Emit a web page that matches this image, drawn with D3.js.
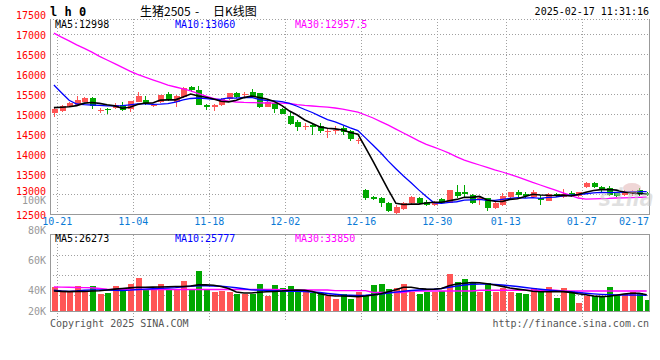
<!DOCTYPE html>
<html><head><meta charset="utf-8">
<script src="https://cdn.jsdelivr.net/npm/d3@7/dist/d3.min.js"></script>
<style>body{margin:0;background:#fff}svg{display:block}text{font-family:"DejaVu Sans Mono",monospace}</style>
</head><body><svg id="c" width="660" height="360"></svg>
<script>
const dates = ["10-18","10-21","10-22","10-23","10-24","10-25","10-28","10-29","10-30","10-31",
"11-01","11-04","11-05","11-06","11-07","11-08","11-11","11-12","11-13","11-14","11-15",
"11-18","11-19","11-20","11-21","11-22","11-25","11-26","11-27","11-28","11-29",
"12-02","12-03","12-04","12-05","12-06","12-09","12-10","12-11","12-12","12-13",
"12-16","12-17","12-18","12-19","12-20","12-23","12-24","12-25","12-26","12-27",
"12-30","12-31","01-02","01-03","01-06","01-07","01-08","01-09","01-10",
"01-13","01-14","01-15","01-16","01-17","01-20","01-21","01-22","01-23","01-24",
"01-27","02-05","02-06","02-07","02-10","02-11","02-12","02-13","02-14","02-17"];
const open  = [15035,15085,15185,15225,15300,15400,15090,15130,15150,15230,15120,15310,15350,15190,15290,15500,15290,15420,15670,15600,15225,15185,15220,15370,15515,15470,15540,15520,15185,15270,15125,14950,14800,14670,14725,14710,14565,14590,14660,14575,14340,13100,12930,12905,12770,12535,12620,12785,12890,12810,12730,12870,12785,13060,13060,12975,12850,12890,12640,12725,12915,13040,12990,12935,12890,12835,13000,12935,13030,12950,13165,13265,13165,13140,13020,12975,12990,13100,13035];
const high  = [15150,15230,15300,15450,15420,15430,15160,15160,15265,15290,15330,15560,15450,15250,15480,15540,15470,15670,15710,15700,15250,15240,15390,15520,15560,15550,15625,15530,15320,15280,15140,15060,14850,14770,14750,14770,14640,14700,14700,14600,14410,13120,12960,12930,12810,12720,12810,12950,12930,12850,12830,12900,13110,13225,13225,12990,12930,12900,12800,13015,13060,13100,13060,13100,12975,13020,13030,13115,13070,13060,13290,13290,13210,13200,13060,13100,13090,13140,13060];
const low   = [14920,15040,15170,15220,15290,15120,15030,15010,15135,15080,15040,15300,15220,15170,15280,15320,15180,15400,15550,15220,15100,15080,15200,15360,15400,15430,15390,15160,15180,15020,14990,14720,14575,14600,14480,14520,14400,14500,14475,14330,14245,12850,12850,12680,12555,12510,12600,12760,12750,12700,12700,12750,12770,12910,12930,12760,12725,12580,12630,12710,12900,12920,12890,12890,12725,12820,12920,12910,12920,12930,13150,13150,13060,12960,12930,12950,12960,12950,12950];
const close = [15125,15200,15280,15350,15400,15200,15100,15100,15215,15110,15320,15440,15280,15230,15470,15340,15450,15650,15590,15230,15170,15230,15370,15515,15435,15500,15435,15185,15310,15125,15000,14750,14685,14690,14685,14580,14580,14605,14560,14370,14360,12910,12870,12785,12585,12680,12765,12915,12785,12725,12780,12770,13100,12950,12990,12770,12890,12660,12785,12950,13040,12975,12950,13060,12850,13000,12960,12990,12950,13040,13285,13170,13100,12975,12950,13060,13060,12990,12975];
const ma5  = [15160,15170,15180,15210,15271,15286,15266,15230,15203,15145,15169,15237,15273,15276,15348,15352,15354,15428,15500,15452,15418,15374,15318,15303,15344,15410,15451,15414,15373,15311,15211,15074,14974,14850,14762,14678,14644,14628,14602,14539,14495,14161,13814,13459,13102,12766,12737,12746,12746,12774,12794,12795,12832,12865,12918,12916,12940,12852,12819,12811,12865,12882,12940,12995,12975,12967,12964,12972,12950,12988,13045,13087,13109,13114,13096,13051,13029,13007,13007];
const ma10 = [15725,15533,15342,15250,15235,15225,15215,15205,15205,15208,15228,15252,15252,15240,15247,15261,15296,15351,15388,15400,15385,15364,15373,15402,15398,15414,15413,15366,15338,15328,15311,15263,15194,15112,15037,14945,14859,14801,14726,14651,14587,14403,14221,14031,13821,13631,13449,13280,13103,12938,12780,12766,12789,12806,12846,12855,12868,12842,12842,12865,12891,12911,12896,12907,12893,12916,12923,12956,12973,12982,13006,13026,13041,13032,13042,13048,13058,13058,13061];
const ma30 = [17020,16920,16830,16730,16640,16545,16440,16350,16260,16165,16070,15990,15920,15855,15790,15720,15675,15630,15580,15510,15445,15390,15350,15320,15300,15290,15285,15280,15275,15272,15270,15262,15235,15215,15200,15185,15170,15150,15120,15085,15045,14975,14900,14810,14720,14620,14525,14430,14330,14240,14170,14100,14020,13930,13845,13785,13725,13665,13605,13550,13490,13430,13360,13290,13225,13160,13095,13030,12965,12900,12870,12880,12885,12890,12900,12905,12910,12915,12920];
const volume = [42000,38870,38870,42670,39560,42670,37330,38200,42670,39560,44000,48000,40000,40000,44000,40000,40440,46000,40440,52870,40440,38670,39330,38870,37330,37330,37330,44000,36200,43330,41330,42670,39560,40000,38000,38000,36200,34000,37330,34000,38870,36000,43330,44000,40670,41560,44000,38870,37330,38870,38870,39560,50670,45560,47330,44440,38870,44440,38870,41110,38870,37780,37330,41110,38870,42000,34890,41110,39330,31110,36200,36000,35560,42000,36670,37330,38870,37780,33330];
const volMa5 = [39300,39100,38900,39100,39000,39300,39500,40000,40600,41000,41400,41800,41800,41900,42000,42200,42300,42300,42700,43400,43500,43200,42300,41000,38700,38000,38000,38500,38800,39000,39300,39800,40000,39800,39000,37500,36500,36000,36000,35800,35600,36000,36700,37500,38800,40200,41800,41800,41000,40600,40500,41000,42800,44000,44500,45000,44800,44200,43300,42400,41300,40600,40000,39200,38800,38800,38900,38900,38400,37500,36800,36000,35600,35800,36500,37300,37800,37800,36800];
const volMa10 = [39800,39300,39100,39300,39800,40100,40100,40000,39800,39700,39900,40300,40600,40800,41100,41300,41600,42100,42500,42800,42800,42700,42500,42100,41500,40800,40100,39900,39700,39500,39300,39200,39100,38900,38700,38300,37700,37200,36700,36500,36400,36500,36800,37300,38000,38600,39200,39700,40000,40300,40500,41000,41800,42600,43300,43800,43900,43900,43700,43300,42800,42300,41700,41100,40500,40000,39500,39100,38800,38300,37800,37400,37100,36900,36700,36700,36700,36600,36500];
const volMa30 = [42000,41900,41800,41700,41600,41500,41000,40600,40400,40300,40300,40300,40300,40300,40300,40300,40300,40300,40300,40300,40300,40300,40300,40300,40300,40300,40300,40300,40300,40300,40200,40000,40000,40000,40000,40000,40000,39600,39600,39600,39600,39600,38300,38300,38300,38300,38300,39300,39300,39300,39300,39300,39300,39300,39300,39300,39800,39800,39800,39800,39800,39800,39800,39800,39800,39800,39800,39300,39300,39300,39300,39300,39300,39300,39300,39300,39300,39300,39300];
const dateTicks = ["10-21","11-04","11-18","12-02","12-16","12-30","01-13","01-27"];
const lastDate = "02-17";
const priceTicks = [17500,17000,16500,16000,15500,15000,14500,14000,13500,13000,12500];
const volTicks = [100000,80000,60000,40000,20000];
const priceLegend = ["MA5:12998","MA10:13060","MA30:12957.5"];
const volLegend = ["MA5:26273","MA10:25777","MA30:33850"];
const legendColors = ["#000","#0000ff","#ff00ff"];

const svg = d3.select("#c");
const L = 50, R = 649, pTop = 19, pBot = 214, vTop = 234.5, vBot = 311;
const x = d3.scaleBand().domain(dates).range([49.7, 657.7]);
const cx = d => x(d) + 4.2;
const y = d3.scaleLinear().domain([12500, 17500]).range([214, 14]);
const vy = d3.scaleLinear().domain([20000, 100000]).range([320, 200]);
const UP = "#ff5555", DOWN = "#00a800";
const idx = d3.range(close.length);

const defs = svg.append("defs");
defs.append("clipPath").attr("id","cp").append("rect").attr("x",L).attr("y",pTop).attr("width",R-L).attr("height",pBot-pTop);
defs.append("clipPath").attr("id","cv").append("rect").attr("x",L).attr("y",vTop).attr("width",R-L).attr("height",vBot-vTop);

const grid = svg.append("g").attr("stroke","#a0a0a0").attr("stroke-dasharray","1,2").attr("shape-rendering","crispEdges");
priceTicks.filter(t => y(t) > pTop + 2 && y(t) < pBot - 2).forEach(t =>
  grid.append("line").attr("x1",L).attr("x2",R).attr("y1",Math.round(y(t))+0.5).attr("y2",Math.round(y(t))+0.5));
grid.append("line").attr("x1",L).attr("x2",R).attr("y1",pTop+0.5).attr("y2",pTop+0.5);
[255,275,295].forEach(g => grid.append("line").attr("x1",L).attr("x2",R).attr("y1",g+0.5).attr("y2",g+0.5));
dateTicks.forEach(d => {
  const gx = Math.round(x(d)) + 0.5;
  grid.append("line").attr("x1",gx).attr("x2",gx).attr("y1",pTop).attr("y2",pBot);
  grid.append("line").attr("x1",gx).attr("x2",gx).attr("y1",vTop).attr("y2",322);
});

const fr = svg.append("g").attr("stroke","#999").attr("fill","none").attr("shape-rendering","crispEdges");
fr.append("path").attr("d",`M${L+0.5},${pTop}V${pBot+0.5}H${R+0.5}V${pTop}`);
fr.append("path").attr("d",`M${L+0.5},${vTop}V${vBot+0.5}H${R+0.5}V${vTop}M${L},${vTop}H${R+0.5}`);

const cg = svg.append("g").attr("clip-path","url(#cp)").attr("shape-rendering","crispEdges");
idx.forEach(i => {
  const c = close[i] >= open[i] ? UP : DOWN;
  const xc = Math.round(cx(dates[i])) + 0.5;
  cg.append("line").attr("x1",xc).attr("x2",xc).attr("y1",y(high[i])).attr("y2",y(low[i])).attr("stroke",c);
  const t = y(Math.max(open[i],close[i])), b = y(Math.min(open[i],close[i]));
  cg.append("rect").attr("x",xc-3).attr("width",6).attr("y",t).attr("height",Math.max(1,b-t)).attr("fill",c);
});
const ln = (arr, sc) => d3.line().x((d,i)=>cx(dates[i])).y(d=>sc(d))(arr);
const lg = svg.append("g").attr("clip-path","url(#cp)").attr("fill","none");
lg.append("path").attr("d",ln(ma30,y)).attr("stroke","#ff00ff").attr("stroke-width",1.3);
lg.append("path").attr("d",ln(ma10,y)).attr("stroke","#0000ff").attr("stroke-width",1.3);
lg.append("path").attr("d",ln(ma5,y)).attr("stroke","#000").attr("stroke-width",1.6);

const vg = svg.append("g").attr("clip-path","url(#cv)").attr("shape-rendering","crispEdges");
idx.forEach(i => {
  const c = close[i] >= open[i] ? UP : DOWN;
  const xc = Math.round(cx(dates[i])) + 0.5;
  vg.append("rect").attr("x",xc-3).attr("width",6).attr("y",vy(volume[i])).attr("height",vBot-vy(volume[i])).attr("fill",c);
});
const vl = svg.append("g").attr("clip-path","url(#cv)").attr("fill","none");
vl.append("path").attr("d",ln(volMa30,vy)).attr("stroke","#ff00ff").attr("stroke-width",1.4);
vl.append("path").attr("d",ln(volMa10,vy)).attr("stroke","#0000ff").attr("stroke-width",1.4);
vl.append("path").attr("d",ln(volMa5,vy)).attr("stroke","#000").attr("stroke-width",1.6);

const wm = svg.append("g").attr("opacity",0.55);
wm.append("ellipse").attr("cx",632).attr("cy",188).attr("rx",9).attr("ry",5).attr("fill","#e3b5b5");
wm.append("text").attr("x",598).attr("y",206).attr("font-family","Liberation Sans").attr("font-style","italic").attr("font-weight","bold").attr("font-size",23).attr("fill","#c8c8c8").text("sina");

const tg = svg.append("g").attr("font-size",10);
const vTopLabel = Math.min(vy(volTicks[0]), 311) + 4.2;
priceTicks.forEach(t => {
  let by = y(t) + 4.5;
  if (by > vTopLabel - 9.5 && by < vTopLabel) by = vTopLabel - 9.5;
  tg.append("text").attr("x",46).attr("y",by).attr("text-anchor","end").attr("fill","#ff0000").text(t);
});
volTicks.forEach((t,k) => tg.append("text").attr("x",46).attr("y",Math.min(vy(t),311)+(k===0?4.2:3.6)).attr("text-anchor","end").attr("fill","#999").text(t/1000+"K"));
dateTicks.forEach(d => tg.append("text").attr("x",x(d)).attr("y",225).attr("text-anchor","middle").attr("fill","#0a7ad6").text(d));
tg.append("text").attr("x",x(lastDate)-1).attr("y",225).attr("text-anchor","end").attr("fill","#0a7ad6").text(lastDate);
const legX = [55,175,295];
priceLegend.forEach((s,k) => tg.append("text").attr("x",legX[k]).attr("y",27.5).attr("fill",legendColors[k]).text(s));
volLegend.forEach((s,k) => tg.append("text").attr("x",legX[k]).attr("y",242).attr("fill",legendColors[k]).text(s));
tg.append("text").attr("x",649).attr("y",15).attr("text-anchor","end").attr("fill","#000").text("2025-02-17 11:31:16");
tg.append("text").attr("x",50).attr("y",327).attr("fill","#555").text("Copyright 2025 SINA.COM");
tg.append("text").attr("x",649).attr("y",327).attr("text-anchor","end").attr("fill","#555").text("http://finance.sina.com.cn");
svg.append("text").attr("x",50).attr("y",15.5).attr("font-size",12).attr("font-weight","bold").attr("fill","#000").text("l h 0");
const tt = svg.append("g").attr("font-size",12).attr("fill","#000");
tt.append("text").attr("x",140).attr("y",16).style("font-family","Noto Sans CJK SC").text("生猪2505");
tt.append("text").attr("x",195).attr("y",16).style("font-family","Noto Sans CJK SC").text("-");
tt.append("text").attr("x",213).attr("y",16).style("font-family","Noto Sans CJK SC").text("日K线图");
</script></body></html>
